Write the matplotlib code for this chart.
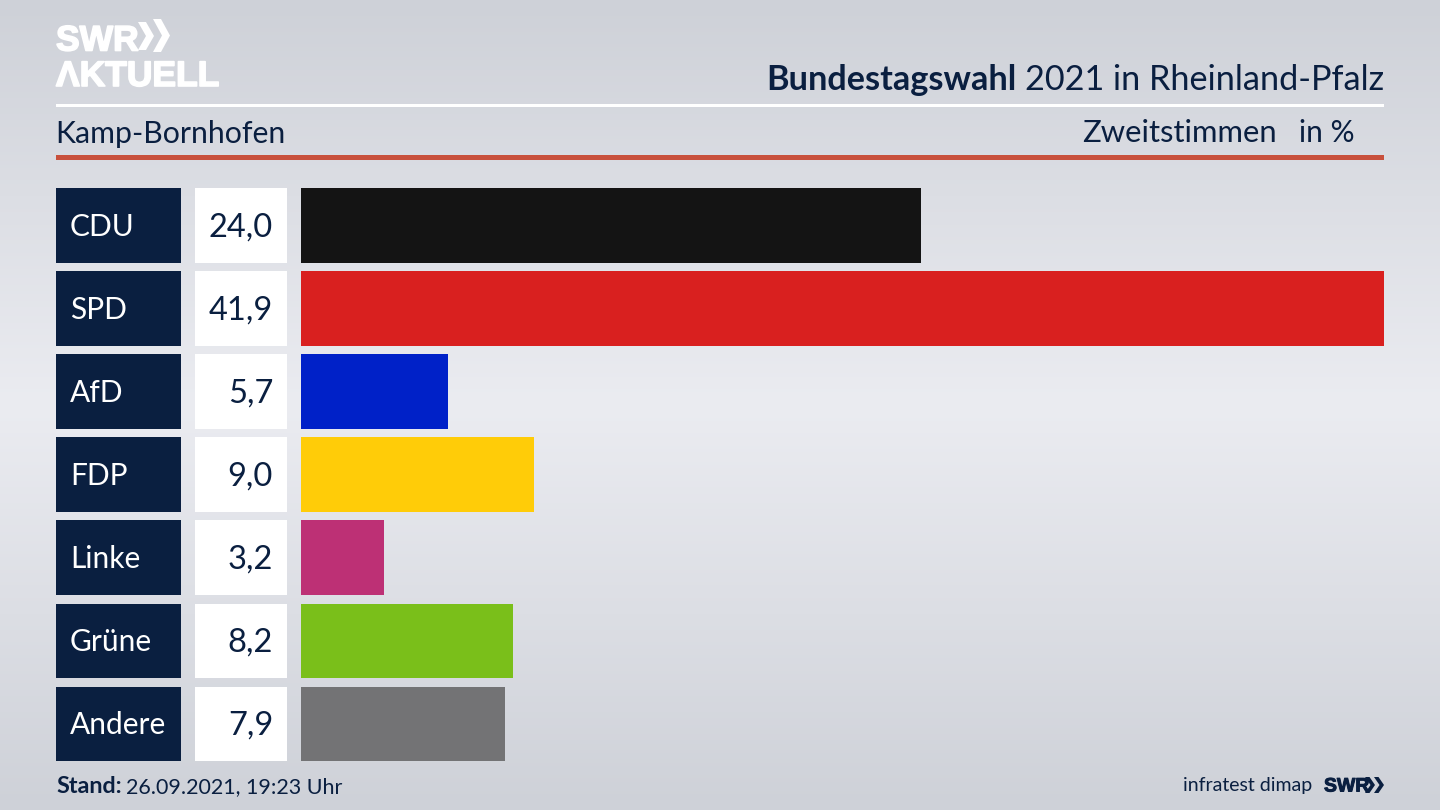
import numpy as np
import matplotlib
matplotlib.use('Agg')
import matplotlib.pyplot as plt
import matplotlib.patheffects as pe
from matplotlib.patches import Polygon, Rectangle

# ================= data =================
parties = ['CDU', 'SPD', 'AfD', 'FDP', 'Linke', 'Grüne', 'Andere']
values = [24.0, 41.9, 5.7, 9.0, 3.2, 8.2, 7.9]
colors = ['#141414', '#d9201f', '#0021c8', '#ffcc08', '#bd3075', '#7abf1a', '#737375']
value_labels = ['24,0', '41,9', '5,7', '9,0', '3,2', '8,2', '7,9']

NAVY = '#0a1f40'
plt.rcParams['font.family'] = ['Lato', 'DejaVu Sans']

W, H = 1440, 810
fig = plt.figure(figsize=(W / 100, H / 100), dpi=100)


def px_axes(left, top, right, bottom, **kw):
    # axes placed by pixel edges, origin top left
    return fig.add_axes([left / W, 1 - bottom / H, (right - left) / W, (bottom - top) / H], **kw)


def chevrons(x_list, top, bottom, size, thick, color):
    # the two arrow heads of the SWR logo
    mid = (top + bottom) / 2
    for x0 in x_list:
        bg.add_patch(Polygon([(x0, top), (x0 + thick, top), (x0 + size, mid), (x0 + thick, bottom),
                              (x0, bottom), (x0 + size - thick, mid)], color=color, lw=0))


# ================= background =================
bg = px_axes(0, 0, W, H)
grad = np.interp(np.linspace(0, 1, 256), [0, 0.5, 1], [0, 1, 0]).reshape(-1, 1, 1)
top_col = np.array([206, 209, 216]) / 255
mid_col = np.array([235, 236, 241]) / 255
bg.imshow(top_col + grad * (mid_col - top_col), aspect='auto', extent=(0, W, H, 0), zorder=0)
bg.set_xlim(0, W)
bg.set_ylim(H, 0)
bg.axis('off')

# rules
bg.add_patch(Rectangle((56, 104), 1328, 3, color='white', lw=0))
bg.add_patch(Rectangle((56, 155), 1328, 5, color='#c8503c', lw=0))

# logo top left
heavy = [pe.withStroke(linewidth=1.2, foreground='white')]
bg.text(56, 50.5, 'SWR', color='white', fontsize=25.5, fontweight='bold', family='Liberation Sans',
        va='baseline', path_effects=heavy)
bg.text(56, 86, 'ΛKTUELL', color='white', fontsize=25.5, fontweight='bold', family='Liberation Sans',
        va='baseline', path_effects=heavy)
chevrons([138], 22, 50, 16, 8, 'white')
chevrons([153], 19, 52, 17, 8, 'white')

# header texts
t = bg.text(1384, 90, '2021 in Rheinland-Pfalz', color=NAVY, fontsize=24.7, ha='right', va='baseline')
fig.canvas.draw()
ext = t.get_window_extent()
bg.text(ext.x0 - 8, 90, 'Bundestagswahl', color=NAVY, fontsize=24.7, fontweight='bold', ha='right', va='baseline')
bg.text(55, 142.5, 'Kamp-Bornhofen', color=NAVY, fontsize=21.8, va='baseline')
bg.text(1277, 142.5, 'Zweitstimmen', color=NAVY, fontsize=22.3, ha='right', va='baseline')
bg.text(1354.5, 142.5, 'in %', color=NAVY, fontsize=21.5, ha='right', va='baseline')

# footer
t = bg.text(56, 793, 'Stand:', color=NAVY, fontsize=16.8, fontweight='bold', va='baseline')
fig.canvas.draw()
bg.text(t.get_window_extent().x1 + 4, 793, '26.09.2021, 19:23 Uhr', color=NAVY, fontsize=15.5, va='baseline')
bg.text(1312, 791, 'infratest dimap', color=NAVY, fontsize=14, ha='right', va='baseline')
bg.text(1324, 791.5, 'SWR', color=NAVY, fontsize=14, fontweight='bold', family='Liberation Sans', va='baseline',
        path_effects=[pe.withStroke(linewidth=0.7, foreground=NAVY)])
chevrons([1365, 1374], 777, 793, 10, 4.5, NAVY)

# ================= bars =================
y = np.arange(len(parties))
top, bottom = 183.8, 765.6

ax_name = px_axes(56, top, 181, bottom)
ax_val = px_axes(195, top, 287, bottom)
ax = px_axes(301, top, 1384, bottom)

ax_name.barh(y, [1] * len(y), height=0.9, color=NAVY)
ax_val.barh(y, [1] * len(y), height=0.9, color='white')
ax.barh(y, values, height=0.9, color=colors)

for a, xmax in ((ax_name, 1), (ax_val, 1), (ax, max(values))):
    a.set_xlim(0, xmax)
    a.set_ylim(len(y) - 0.5, -0.5)
    a.axis('off')
    a.patch.set_alpha(0)

for i in y:
    ax_name.text(14 / 125, i - 0.015, parties[i], color='white', fontsize=21.5, va='center_baseline')
    ax_val.text(78 / 92, i - 0.015, value_labels[i], color=NAVY, fontsize=23.5, ha='right', va='center_baseline')

fig.savefig('out.png', dpi=100)
